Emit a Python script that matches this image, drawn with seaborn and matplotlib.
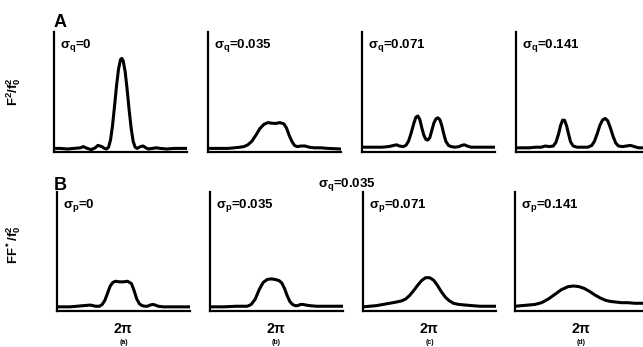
"""
Profils F^2/f0^2 (ligne A) et FF*/f0^2 (ligne B)
pour differentes valeurs de sigma_q et sigma_p.
Valeurs relevees a la main sur la figure (x et y en % du cadre).
"""
import matplotlib
matplotlib.use("Agg")
import matplotlib.pyplot as plt
import seaborn as sns
import pandas as pd

# ----------------------------------------------------------
# 1) Donnees (x en % de la largeur, y en % de la hauteur)
# ----------------------------------------------------------
labels_a = [r"$\sigma_q$=0", r"$\sigma_q$=0.035", r"$\sigma_q$=0.071", r"$\sigma_q$=0.141"]
labels_b = [r"$\sigma_p$=0", r"$\sigma_p$=0.035", r"$\sigma_p$=0.071", r"$\sigma_p$=0.141"]
panel_tags = ["(a)", "(b)", "(c)", "(d)"]

a1_x = [0, 5, 10, 15, 20, 22, 25, 28, 31, 33, 36, 38, 39.5, 41, 42.5, 44, 45.5, 47, 48.5, 50, 51, 52,
        53.5, 55, 56.5, 58, 59.5, 61, 62.5, 65, 67, 69, 71, 74, 77, 80, 85, 90, 95, 100]
a1_y = [3, 3, 2.5, 3, 3.5, 4.5, 3, 2, 3.5, 5.5, 4.5, 3, 2.5, 4, 10, 22, 38, 55, 69, 77, 78, 76,
        67, 52, 35, 20, 9, 4, 3, 4.5, 5, 3.5, 2.5, 3, 3.5, 3, 2.5, 3, 3, 3]

a2_x = [0, 5, 10, 15, 20, 24, 27, 30, 33, 36, 39, 42, 45, 48, 51, 54, 57, 59, 61, 63, 65, 67, 70,
        73, 76, 80, 85, 90, 100]
a2_y = [3, 3, 3, 3, 3.5, 4, 4.5, 6, 9, 14, 19.5, 23, 24.5, 24, 23.8, 24.5, 23.5, 20, 14, 9, 5.5,
        4.5, 5, 5, 4, 3.5, 3.5, 3, 2.5]

a3_x = [0, 5, 10, 15, 20, 24, 26, 28, 31, 33, 35, 37, 39, 40.5, 42, 43.5, 45, 46.5, 48, 49.5, 51,
        52.5, 54, 55.5, 57, 58.5, 60, 61.5, 63, 65, 67, 70, 73, 75, 77, 79, 82, 88, 94, 100]
a3_y = [4, 4, 4, 4, 4.5, 5.5, 6, 5, 4.5, 5.5, 9, 16, 24, 29, 30, 27, 20, 14, 10.5, 10, 12,
        18, 24, 27.5, 28.5, 27, 22, 15, 9, 5.5, 4.5, 4, 4.5, 5.5, 6, 5, 4, 4, 4, 4]

a4_x = [0, 5, 10, 15, 19, 22, 25, 28, 30, 32, 33.5, 35, 36.5, 38, 39.5, 41, 43, 46, 50, 54, 57,
        59, 61, 63, 65, 67, 69, 71, 73, 75, 77, 80, 83, 86, 89, 92, 100]
a4_y = [3.5, 3.5, 3.5, 4, 4, 5, 4.5, 5, 8, 15, 22, 26.5, 26.5, 22, 15, 8.5, 5, 4, 4, 4, 5.5,
        9, 15, 22, 26.5, 28, 26, 20, 13, 7.5, 5, 4.5, 5, 5.5, 4.5, 3.5, 3.5]

b1_x = [0, 5, 10, 15, 20, 25, 29, 32, 34, 36, 38, 40, 42, 44, 47, 50, 53, 56, 58, 60, 62, 64, 66,
        68, 70, 72, 74, 76, 80, 90, 100]
b1_y = [3.5, 3.5, 3.5, 4, 4.5, 5, 4, 4, 5.5, 9, 15, 21, 24, 25, 24.5, 24.5, 25, 23, 17, 10, 6,
        4.5, 4, 4, 5, 5.5, 5, 4, 3.5, 3.5, 3.5]

b2_x = [0, 10, 20, 25, 28, 31, 34, 37, 40, 43, 46, 49, 52, 54, 56, 58, 60, 62, 64, 66, 68, 70, 72,
        75, 80, 90, 100]
b2_y = [3.5, 3.5, 4, 4, 4, 5.5, 10, 18, 24, 26.5, 27, 26.5, 25.5, 23.5, 19, 13, 8, 5.5, 4.5,
        4.5, 5.5, 5.5, 5, 4.5, 4, 4, 4]

b3_x = [0, 5, 10, 15, 20, 25, 29, 32, 35, 38, 41, 44, 47, 50, 53, 56, 59, 62, 65, 68, 72, 77, 82,
        88, 94, 100]
b3_y = [3.5, 4, 4.5, 5.5, 6.5, 7.5, 8.5, 10, 13, 17, 21.5, 25.5, 28, 28, 26, 21.5, 16, 11.5,
        8.5, 6.5, 5.5, 5, 4.5, 4, 4, 4]

b4_x = [0, 5, 10, 15, 20, 25, 30, 35, 40, 44, 48, 52, 56, 60, 64, 68, 72, 76, 80, 85, 90, 95, 100]
b4_y = [4, 4.5, 5, 5.5, 7, 10, 14, 18, 20.5, 21, 20.5, 19, 16.5, 13.5, 11, 9, 8, 7.5, 7, 7, 6.5,
        6.5, 6.5]

row_a = [(a1_x, a1_y), (a2_x, a2_y), (a3_x, a3_y), (a4_x, a4_y)]
row_b = [(b1_x, b1_y), (b2_x, b2_y), (b3_x, b3_y), (b4_x, b4_y)]

# ----------------------------------------------------------
# 2) Style
# ----------------------------------------------------------
sns.set_style("white")
plt.rcParams["font.family"] = ["Liberation Sans", "DejaVu Sans"]
plt.rcParams["font.weight"] = "bold"
plt.rcParams["text.color"] = "black"
plt.rcParams["xtick.color"] = "black"
plt.rcParams["mathtext.fontset"] = "custom"
plt.rcParams["mathtext.rm"] = "Liberation Sans:bold"
plt.rcParams["mathtext.it"] = "Liberation Sans:bold"
plt.rcParams["mathtext.bf"] = "Liberation Sans:bold"

W, H = 643, 347
fig = plt.figure(figsize=(W / 100, H / 100), dpi=100)

left_a = [54, 208, 362, 516]
left_b = [57, 210, 363, 515]
pw = 133


def make_ax(x0, top, bottom):
    return fig.add_axes([x0 / W, (H - bottom) / H, pw / W, (bottom - top) / H])


def draw_panel(ax, xs, ys, label, tick_label=None):
    df = pd.DataFrame({"x": xs, "y": ys})
    sns.lineplot(data=df, x="x", y="y", ax=ax, color="black", linewidth=2.2, sort=False)
    ax.set_xlim(0, 100)
    ax.set_ylim(0, 100)
    ax.set_xlabel("")
    ax.set_ylabel("")
    ax.set_yticks([])
    if tick_label:
        ax.set_xticks([50])
        ax.set_xticklabels([tick_label], fontsize=10, fontweight="bold")
        ax.tick_params(axis="x", length=0, pad=8, colors="black")
    else:
        ax.set_xticks([])
    for s in ["top", "right"]:
        ax.spines[s].set_visible(False)
    for s in ["left", "bottom"]:
        ax.spines[s].set_color("black")
        ax.spines[s].set_linewidth(1.6)
    ax.text(0.045, 0.87, label, transform=ax.transAxes, fontsize=9.5, fontweight="bold",
            ha="left", va="baseline")


for i, (xs, ys) in enumerate(row_a):
    ax = make_ax(left_a[i], 32, 152)
    draw_panel(ax, xs, ys, labels_a[i])

for i, (xs, ys) in enumerate(row_b):
    ax = make_ax(left_b[i], 192, 311)
    draw_panel(ax, xs, ys, labels_b[i], tick_label=r"2$\pi$")
    xc = (left_b[i] + pw * 0.5) / W
    fig.text(xc, 1.0 / H, panel_tags[i], ha="center", va="bottom", fontsize=5,
             fontweight="bold")

# ----------------------------------------------------------
# 3) Textes de la figure
# ----------------------------------------------------------
fig.text(54 / W, (H - 27) / H, "A", fontsize=13, fontweight="bold", ha="left", va="baseline")
fig.text(54 / W, (H - 190) / H, "B", fontsize=13, fontweight="bold", ha="left", va="baseline")
fig.text(14 / W, (H - 92) / H, r"F$^2$/f$_0^2$", rotation=90, fontsize=9.5,
         fontweight="bold", ha="center", va="center")
fig.text(14 / W, (H - 245) / H, r"FF$^*$/f$_0^2$", rotation=90, fontsize=9.5,
         fontweight="bold", ha="center", va="center")
fig.text(318 / W, (H - 187) / H, r"$\sigma_q$=0.035", fontsize=9.5, fontweight="bold",
         ha="left", va="baseline")

fig.savefig("out.png", dpi=100)
plt.close(fig)
